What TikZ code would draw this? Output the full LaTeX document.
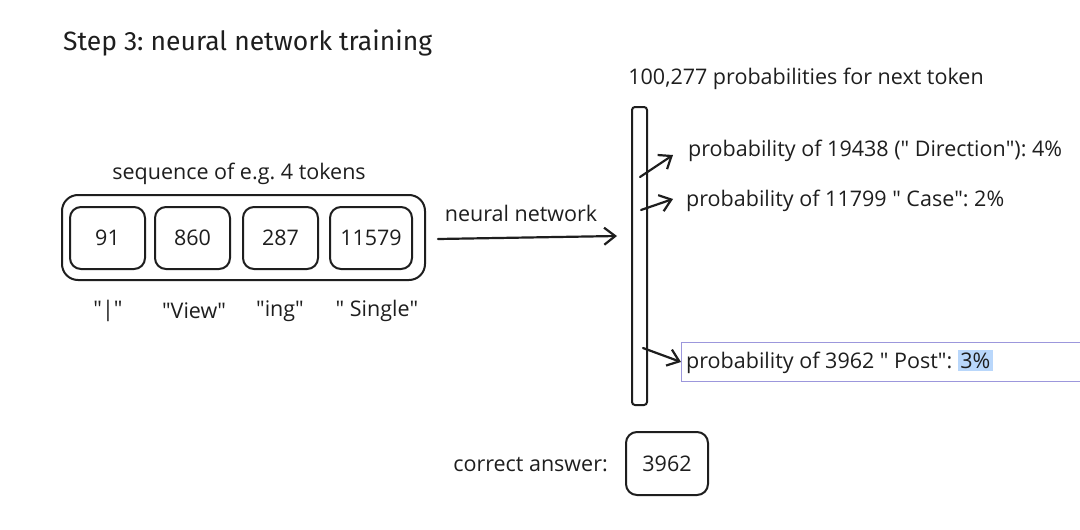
\documentclass[tikz,border=0pt]{standalone}
\usepackage{fontspec}
\setmainfont{Open Sans}
\newfontfamily\titlefont{Fira Sans}
\usetikzlibrary{arrows.meta,positioning}
\definecolor{ink}{HTML}{1E1E1E}
\definecolor{hl}{HTML}{B9D7FB}
\definecolor{sel}{HTML}{9C97DC}
\newcommand\dq{\textquotedbl}
\tikzset{
  sk/.style={draw=ink, line width=2pt, rounded corners=11pt},
  tok/.style={sk, minimum width=72pt, minimum height=62pt, font=\fontsize{21.5}{25}\selectfont, text=ink},
  lbl/.style={font=\fontsize{21.5}{25}\selectfont, text=ink, inner sep=0pt},
  arr/.style={draw=ink, line width=2.2pt, line cap=round, -{Straight Barb[length=11pt,width=17pt,line width=2.2pt]}},
}
\begin{document}
\frenchspacing
\begin{tikzpicture}[x=1pt,y=-1pt]
\useasboundingbox (0,0) rectangle (1080,530);
\fill[white] (0,0) rectangle (1080,530);

\node[lbl, anchor=west, font=\titlefont\fontsize{26.5}{30}\selectfont] (title) at (63,43) {Step 3: neural network training};

% sequence
\node[lbl] (seqlbl) at (239,174) {sequence of e.g. 4 tokens};
\node[sk, rounded corners=16pt, minimum width=363pt, minimum height=85pt] (outer) at (243.5,237.5) {};
\node[tok, minimum width=75pt] (t1) at (107.5,238) {91};
\node[tok, minimum width=75pt] (t2) at (192.5,238) {860};
\node[tok, minimum width=75pt] (t3) at (280.5,238) {287};
\node[tok, minimum width=82pt] (t4) at (371,238) {11579};

\node[lbl] (w1) at (108,311) {\dq|\dq};
\node[lbl] (w2) at (194,311) {\dq View\dq};
\node[lbl] (w3) at (280,311) {\dq ing\dq};
\node[lbl] (w4) at (377,311) {\dq{} Single\dq};

% bar
\node[sk, rounded corners=3pt, minimum width=15pt, minimum height=298pt, inner sep=0pt] (bar) at (639.5,256) {};
\node[lbl] (toplbl) at (806,79) {100,277 probabilities for next token};

\draw[arr] ([xshift=12pt,yshift=-1.5pt]outer.east) -- ([xshift=-14pt]bar.west |- 0,236);
\node[lbl] (nn) at (521,213) {neural network};

% outputs
\node[lbl, anchor=west] (p1) at (688,151) {probability of 19438 (\dq{} Direction\dq): 4\%};
\node[lbl, anchor=west] (p2) at (686,201) {probability of 11799 \dq{} Case\dq: 2\%};
\draw[draw=sel, line width=1pt] (1081,342) -- (681,342) -- (681,381) -- (1081,381);
\node[lbl, anchor=west] (p3) at (686,362) {probability of 3962 \dq{} Post\dq: {\setlength{\fboxsep}{2.5pt}\colorbox{hl}{3\%}}};

\coordinate (s1) at (640,177);
\coordinate (s2) at (641,210);
\coordinate (s3) at (643,348);
\draw[arr] (s1) -- (673,155);
\draw[arr] (s2) -- (673,199);
\draw[arr] (s3) -- ([xshift=-5pt,yshift=0pt]p3.west);

% correct answer
\node[lbl, anchor=east] (ca) at (608,465) {correct answer:};
\node[tok, minimum width=82pt, minimum height=63pt] (ans) at (667,463.5) {3962};
\end{tikzpicture}
\end{document}
